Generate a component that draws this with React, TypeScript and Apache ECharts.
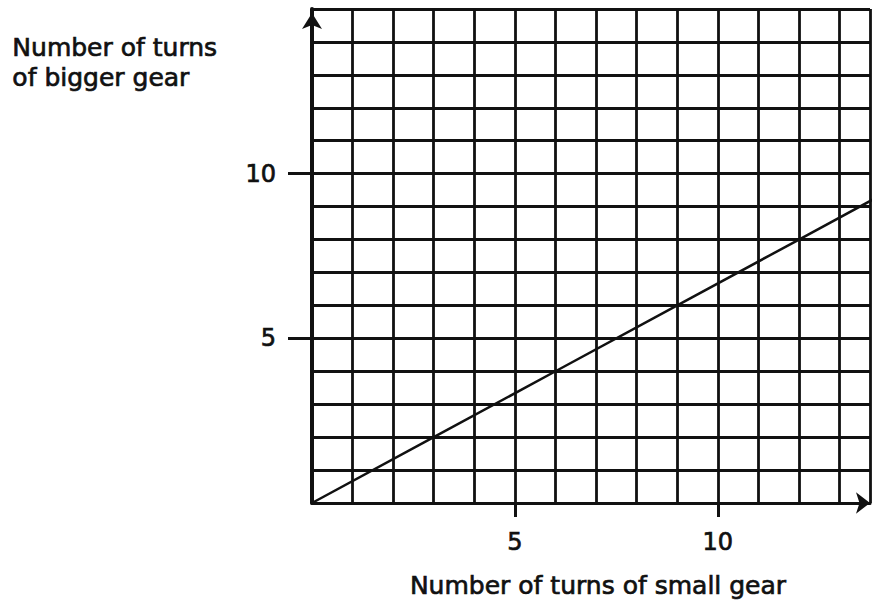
import React, { useEffect, useRef } from "react";
import * as echarts from "echarts";

// Turns of the small gear against turns of the bigger gear (3 : 2 ratio)
const smallGearTurns = [0, 3, 6, 9, 12, 15];
const biggerGearTurns = [0, 2, 4, 6, 8, 10];

const xTickLabels = [5, 10];
const yTickLabels = [5, 10];

const yTitleLines = ["Number of turns", "of bigger gear"];
const xTitle = "Number of turns of small gear";

const INK = "#111";
const FONT = "'DejaVu Sans', sans-serif";

const X_MAX = 13.75;
const Y_MAX = 15;

export default function App() {
  const ref = useRef<HTMLDivElement>(null);

  useEffect(() => {
    if (!ref.current) return;
    const chart = echarts.init(ref.current, undefined, { renderer: "svg" });

    const points = smallGearTurns.map((x, i) => [x, biggerGearTurns[i]]);

    const labelStyle = {
      fontSize: 24,
      fontFamily: FONT,
      color: INK,
      textBorderColor: INK,
      textBorderWidth: 0.7,
    };

    chart.setOption({
      animation: false,
      backgroundColor: "#fff",
      grid: {
        left: 312,
        right: 5,
        top: 9,
        bottom: 99,
        containLabel: false,
        outerBoundsMode: "none",
      },
      xAxis: [
        // square grid every unit, with the arrowed axis line
        {
          type: "value",
          min: 0,
          max: X_MAX,
          interval: 1,
          axisLine: {
            show: true,
            symbol: ["none", "arrow"],
            symbolSize: [16, 14],
            lineStyle: { color: INK, width: 3 },
          },
          axisTick: { show: false },
          axisLabel: { show: false },
          splitLine: { show: true, lineStyle: { color: INK, width: 2.8 } },
        },
        // labelled ticks at 5 and 10
        {
          type: "value",
          position: "bottom",
          min: 0,
          max: X_MAX,
          axisLine: { show: false },
          axisTick: {
            show: true,
            customValues: xTickLabels,
            length: 14,
            lineStyle: { color: INK, width: 3 },
          },
          axisLabel: { show: true, customValues: xTickLabels, margin: 27, ...labelStyle },
          splitLine: { show: false },
        },
      ],
      yAxis: [
        {
          type: "value",
          min: 0,
          max: Y_MAX,
          interval: 1,
          axisLine: {
            show: true,
            symbol: ["none", "arrow"],
            symbolSize: [15, 16],
            symbolOffset: [0, -4],
            lineStyle: { color: INK, width: 4 },
          },
          axisTick: { show: false },
          axisLabel: { show: false },
          splitLine: { show: true, lineStyle: { color: INK, width: 2.8 } },
        },
        // labelled ticks at 5 and 10
        {
          type: "value",
          position: "left",
          min: 0,
          max: Y_MAX,
          axisLine: { show: false },
          axisTick: {
            show: true,
            customValues: yTickLabels,
            length: 24,
            lineStyle: { color: INK, width: 3 },
          },
          axisLabel: { show: true, customValues: yTickLabels, margin: 36, ...labelStyle },
          splitLine: { show: false },
        },
      ],
      graphic: [
        {
          type: "text",
          left: 12,
          top: 32,
          style: {
            text: yTitleLines.join("\n"),
            font: `25px ${FONT}`,
            lineHeight: 30,
            fill: INK,
            stroke: INK,
            lineWidth: 0.7,
          },
        },
        {
          type: "text",
          x: 598,
          y: 585,
          style: {
            text: xTitle,
            font: `25px ${FONT}`,
            fill: INK,
            stroke: INK,
            lineWidth: 0.7,
            align: "center",
            verticalAlign: "middle",
          },
        },
      ],
      series: [
        {
          type: "line",
          xAxisIndex: 0,
          yAxisIndex: 0,
          data: points,
          symbol: "none",
          clip: true,
          lineStyle: { color: INK, width: 2.5 },
        },
      ],
    });

    return () => chart.dispose();
  }, []);

  return (
    <div
      ref={ref}
      style={{ position: "fixed", left: 0, top: 0, width: 875, height: 602, background: "#fff" }}
    />
  );
}
